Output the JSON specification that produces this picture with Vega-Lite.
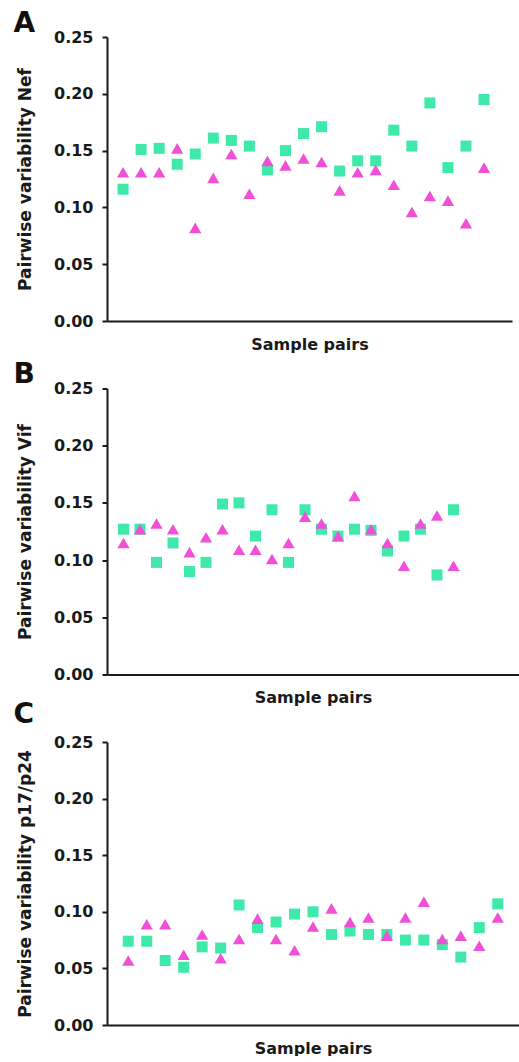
{
  "$schema": "https://vega.github.io/schema/vega-lite/v6.json",
  "padding": {"left": 13, "top": 10, "right": 0, "bottom": 0},
  "spacing": 67.5,
  "bounds": "flush",
  "datasets": {
    "pts": [
      {"panel":"A","series":"Square","pair":1,"value":0.116},{"panel":"A","series":"Square","pair":2,"value":0.151},{"panel":"A","series":"Square","pair":3,"value":0.152},{"panel":"A","series":"Square","pair":4,"value":0.138},{"panel":"A","series":"Square","pair":5,"value":0.147},{"panel":"A","series":"Square","pair":6,"value":0.161},{"panel":"A","series":"Square","pair":7,"value":0.159},{"panel":"A","series":"Square","pair":8,"value":0.154},{"panel":"A","series":"Square","pair":9,"value":0.133},{"panel":"A","series":"Square","pair":10,"value":0.150},{"panel":"A","series":"Square","pair":11,"value":0.165},{"panel":"A","series":"Square","pair":12,"value":0.171},{"panel":"A","series":"Square","pair":13,"value":0.132},{"panel":"A","series":"Square","pair":14,"value":0.141},{"panel":"A","series":"Square","pair":15,"value":0.141},{"panel":"A","series":"Square","pair":16,"value":0.168},{"panel":"A","series":"Square","pair":17,"value":0.154},{"panel":"A","series":"Square","pair":18,"value":0.192},{"panel":"A","series":"Square","pair":19,"value":0.135},{"panel":"A","series":"Square","pair":20,"value":0.154},{"panel":"A","series":"Square","pair":21,"value":0.195},
      {"panel":"A","series":"Triangle","pair":1,"value":0.131},{"panel":"A","series":"Triangle","pair":2,"value":0.131},{"panel":"A","series":"Triangle","pair":3,"value":0.131},{"panel":"A","series":"Triangle","pair":4,"value":0.152},{"panel":"A","series":"Triangle","pair":5,"value":0.082},{"panel":"A","series":"Triangle","pair":6,"value":0.126},{"panel":"A","series":"Triangle","pair":7,"value":0.147},{"panel":"A","series":"Triangle","pair":8,"value":0.112},{"panel":"A","series":"Triangle","pair":9,"value":0.141},{"panel":"A","series":"Triangle","pair":10,"value":0.137},{"panel":"A","series":"Triangle","pair":11,"value":0.143},{"panel":"A","series":"Triangle","pair":12,"value":0.140},{"panel":"A","series":"Triangle","pair":13,"value":0.115},{"panel":"A","series":"Triangle","pair":14,"value":0.131},{"panel":"A","series":"Triangle","pair":15,"value":0.133},{"panel":"A","series":"Triangle","pair":16,"value":0.120},{"panel":"A","series":"Triangle","pair":17,"value":0.096},{"panel":"A","series":"Triangle","pair":18,"value":0.110},{"panel":"A","series":"Triangle","pair":19,"value":0.106},{"panel":"A","series":"Triangle","pair":20,"value":0.086},{"panel":"A","series":"Triangle","pair":21,"value":0.135},
      {"panel":"B","series":"Square","pair":1,"value":0.127},{"panel":"B","series":"Square","pair":2,"value":0.127},{"panel":"B","series":"Square","pair":3,"value":0.098},{"panel":"B","series":"Square","pair":4,"value":0.115},{"panel":"B","series":"Square","pair":5,"value":0.090},{"panel":"B","series":"Square","pair":6,"value":0.098},{"panel":"B","series":"Square","pair":7,"value":0.149},{"panel":"B","series":"Square","pair":8,"value":0.150},{"panel":"B","series":"Square","pair":9,"value":0.121},{"panel":"B","series":"Square","pair":10,"value":0.144},{"panel":"B","series":"Square","pair":11,"value":0.098},{"panel":"B","series":"Square","pair":12,"value":0.144},{"panel":"B","series":"Square","pair":13,"value":0.127},{"panel":"B","series":"Square","pair":14,"value":0.121},{"panel":"B","series":"Square","pair":15,"value":0.127},{"panel":"B","series":"Square","pair":16,"value":0.126},{"panel":"B","series":"Square","pair":17,"value":0.108},{"panel":"B","series":"Square","pair":18,"value":0.121},{"panel":"B","series":"Square","pair":19,"value":0.127},{"panel":"B","series":"Square","pair":20,"value":0.087},{"panel":"B","series":"Square","pair":21,"value":0.144},
      {"panel":"B","series":"Triangle","pair":1,"value":0.115},{"panel":"B","series":"Triangle","pair":2,"value":0.127},{"panel":"B","series":"Triangle","pair":3,"value":0.132},{"panel":"B","series":"Triangle","pair":4,"value":0.127},{"panel":"B","series":"Triangle","pair":5,"value":0.107},{"panel":"B","series":"Triangle","pair":6,"value":0.120},{"panel":"B","series":"Triangle","pair":7,"value":0.127},{"panel":"B","series":"Triangle","pair":8,"value":0.109},{"panel":"B","series":"Triangle","pair":9,"value":0.109},{"panel":"B","series":"Triangle","pair":10,"value":0.101},{"panel":"B","series":"Triangle","pair":11,"value":0.115},{"panel":"B","series":"Triangle","pair":12,"value":0.138},{"panel":"B","series":"Triangle","pair":13,"value":0.132},{"panel":"B","series":"Triangle","pair":14,"value":0.121},{"panel":"B","series":"Triangle","pair":15,"value":0.156},{"panel":"B","series":"Triangle","pair":16,"value":0.127},{"panel":"B","series":"Triangle","pair":17,"value":0.115},{"panel":"B","series":"Triangle","pair":18,"value":0.095},{"panel":"B","series":"Triangle","pair":19,"value":0.132},{"panel":"B","series":"Triangle","pair":20,"value":0.139},{"panel":"B","series":"Triangle","pair":21,"value":0.095},
      {"panel":"C","series":"Square","pair":1,"value":0.074},{"panel":"C","series":"Square","pair":2,"value":0.074},{"panel":"C","series":"Square","pair":3,"value":0.057},{"panel":"C","series":"Square","pair":4,"value":0.051},{"panel":"C","series":"Square","pair":5,"value":0.069},{"panel":"C","series":"Square","pair":6,"value":0.068},{"panel":"C","series":"Square","pair":7,"value":0.106},{"panel":"C","series":"Square","pair":8,"value":0.086},{"panel":"C","series":"Square","pair":9,"value":0.091},{"panel":"C","series":"Square","pair":10,"value":0.098},{"panel":"C","series":"Square","pair":11,"value":0.100},{"panel":"C","series":"Square","pair":12,"value":0.080},{"panel":"C","series":"Square","pair":13,"value":0.083},{"panel":"C","series":"Square","pair":14,"value":0.080},{"panel":"C","series":"Square","pair":15,"value":0.080},{"panel":"C","series":"Square","pair":16,"value":0.075},{"panel":"C","series":"Square","pair":17,"value":0.075},{"panel":"C","series":"Square","pair":18,"value":0.071},{"panel":"C","series":"Square","pair":19,"value":0.060},{"panel":"C","series":"Square","pair":20,"value":0.086},{"panel":"C","series":"Square","pair":21,"value":0.107},
      {"panel":"C","series":"Triangle","pair":1,"value":0.057},{"panel":"C","series":"Triangle","pair":2,"value":0.089},{"panel":"C","series":"Triangle","pair":3,"value":0.089},{"panel":"C","series":"Triangle","pair":4,"value":0.062},{"panel":"C","series":"Triangle","pair":5,"value":0.080},{"panel":"C","series":"Triangle","pair":6,"value":0.059},{"panel":"C","series":"Triangle","pair":7,"value":0.076},{"panel":"C","series":"Triangle","pair":8,"value":0.094},{"panel":"C","series":"Triangle","pair":9,"value":0.076},{"panel":"C","series":"Triangle","pair":10,"value":0.066},{"panel":"C","series":"Triangle","pair":11,"value":0.087},{"panel":"C","series":"Triangle","pair":12,"value":0.103},{"panel":"C","series":"Triangle","pair":13,"value":0.091},{"panel":"C","series":"Triangle","pair":14,"value":0.095},{"panel":"C","series":"Triangle","pair":15,"value":0.079},{"panel":"C","series":"Triangle","pair":16,"value":0.095},{"panel":"C","series":"Triangle","pair":17,"value":0.109},{"panel":"C","series":"Triangle","pair":18,"value":0.076},{"panel":"C","series":"Triangle","pair":19,"value":0.079},{"panel":"C","series":"Triangle","pair":20,"value":0.070},{"panel":"C","series":"Triangle","pair":21,"value":0.095}
    ]
  },
  "vconcat": [
    {
      "title": {"text": "A", "offset": -9},
      "width": 405, "height": 284,
      "data": {"name": "pts"},
      "transform": [{"filter": "datum.panel == 'A'"}],
      "mark": {"type": "point", "filled": true, "opacity": 1, "strokeWidth": 0},
      "encoding": {
        "x": {"field": "pair", "type": "quantitative", "scale": {"domain": [0.11, 22.55], "nice": false, "zero": false}, "axis": {"title": "Sample pairs", "ticks": false, "labels": false}},
        "y": {"field": "value", "type": "quantitative", "scale": {"domain": [0, 0.25], "nice": false}, "axis": {"title": "Pairwise variability Nef", "values": [0, 0.05, 0.1, 0.15, 0.2, 0.25], "format": ".2f"}},
        "shape": {"field": "series", "type": "nominal", "scale": {"domain": ["Square", "Triangle"], "range": ["square", "triangle-up"]}, "legend": null},
        "color": {"field": "series", "type": "nominal", "scale": {"domain": ["Square", "Triangle"], "range": ["#3FE9A9", "#F050D8"]}, "legend": null},
        "size": {"field": "series", "type": "nominal", "scale": {"domain": ["Square", "Triangle"], "range": [121, 150]}, "legend": null},
        "order": {"field": "series", "type": "nominal"}
      }
    },
    {
      "title": {"text": "B", "offset": -8},
      "width": 412, "height": 286,
      "data": {"name": "pts"},
      "transform": [{"filter": "datum.panel == 'B'"}],
      "mark": {"type": "point", "filled": true, "opacity": 1, "strokeWidth": 0},
      "encoding": {
        "x": {"field": "pair", "type": "quantitative", "scale": {"domain": [0, 24.97], "nice": false, "zero": false}, "axis": {"title": "Sample pairs", "ticks": false, "labels": false}},
        "y": {"field": "value", "type": "quantitative", "scale": {"domain": [0, 0.25], "nice": false}, "axis": {"title": "Pairwise variability Vif", "values": [0, 0.05, 0.1, 0.15, 0.2, 0.25], "format": ".2f"}},
        "shape": {"field": "series", "type": "nominal", "scale": {"domain": ["Square", "Triangle"], "range": ["square", "triangle-up"]}, "legend": null},
        "color": {"field": "series", "type": "nominal", "scale": {"domain": ["Square", "Triangle"], "range": ["#3FE9A9", "#F050D8"]}, "legend": null},
        "size": {"field": "series", "type": "nominal", "scale": {"domain": ["Square", "Triangle"], "range": [121, 150]}, "legend": null},
        "order": {"field": "series", "type": "nominal"}
      }
    },
    {
      "title": {"text": "C", "offset": 5},
      "width": 412, "height": 283,
      "data": {"name": "pts"},
      "transform": [{"filter": "datum.panel == 'C'"}],
      "mark": {"type": "point", "filled": true, "opacity": 1, "strokeWidth": 0},
      "encoding": {
        "x": {"field": "pair", "type": "quantitative", "scale": {"domain": [-0.15, 22.15], "nice": false, "zero": false}, "axis": {"title": "Sample pairs", "ticks": false, "labels": false}},
        "y": {"field": "value", "type": "quantitative", "scale": {"domain": [0, 0.25], "nice": false}, "axis": {"title": "Pairwise variability p17/p24", "values": [0, 0.05, 0.1, 0.15, 0.2, 0.25], "format": ".2f"}},
        "shape": {"field": "series", "type": "nominal", "scale": {"domain": ["Square", "Triangle"], "range": ["square", "triangle-up"]}, "legend": null},
        "color": {"field": "series", "type": "nominal", "scale": {"domain": ["Square", "Triangle"], "range": ["#3FE9A9", "#F050D8"]}, "legend": null},
        "size": {"field": "series", "type": "nominal", "scale": {"domain": ["Square", "Triangle"], "range": [121, 150]}, "legend": null},
        "order": {"field": "series", "type": "nominal"}
      }
    }
  ],
  "config": {
    "font": "DejaVu Sans",
    "view": {"stroke": null},
    "title": {"anchor": "start", "frame": "bounds", "fontSize": 28, "fontWeight": "bold", "color": "#111111", "dx": -3},
    "axis": {
      "grid": false,
      "domainColor": "#1a1a1a", "domainWidth": 2,
      "tickColor": "#1a1a1a", "tickWidth": 2, "tickSize": 5,
      "labelFont": "DejaVu Sans", "labelFontSize": 16, "labelFontWeight": "bold", "labelColor": "#1a1a1a", "labelPadding": 9,
      "titleFont": "DejaVu Sans", "titleFontWeight": "bold", "titleColor": "#1a1a1a"
    },
    "axisX": {"titleFontSize": 16, "titlePadding": 15},
    "axisY": {"titleFontSize": 17, "titlePadding": 19}
  }
}
